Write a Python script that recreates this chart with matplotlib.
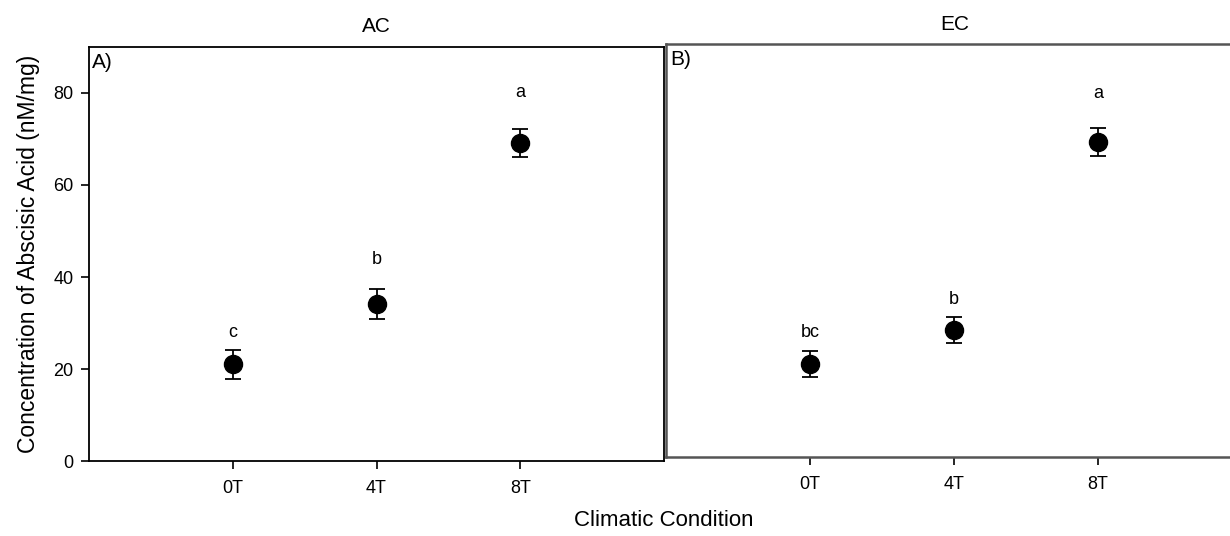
import matplotlib.pyplot as plt

plt.rcParams['font.family'] = ['Liberation Sans', 'DejaVu Sans']

conditions = ["0T", "4T", "8T"]

# AC panel
ac_mean = [21.0, 34.1, 69.1]
ac_err = [3.1, 3.2, 3.1]
ac_letters = ["c", "b", "a"]
ac_letter_y = [28.0, 43.9, 80.2]

# EC panel
ec_mean = [20.2, 27.7, 68.6]
ec_err = [2.8, 2.9, 3.0]
ec_letters = ["bc", "b", "a"]
ec_letter_y = [27.2, 34.4, 79.3]

W, H = 1230, 536
fig = plt.figure(figsize=(W / 100, H / 100), dpi=100)

ax_a = fig.add_axes([89 / W, (H - 461) / H, 575 / W, 414 / H])
ax_b = fig.add_axes([666 / W, (H - 457) / H, 720 / W, 413 / H])

x = list(range(len(conditions)))

for ax, mean, err, letters, ly, tag in [
    (ax_a, ac_mean, ac_err, ac_letters, ac_letter_y, "A)"),
    (ax_b, ec_mean, ec_err, ec_letters, ec_letter_y, "B)"),
]:
    ax.errorbar(x, mean, yerr=err, fmt="o", color="black", ms=13,
                capsize=5.5, elinewidth=1.3, capthick=1.3)
    for xi, lab, y in zip(x, letters, ly):
        ax.text(xi, y, lab, ha="center", va="center", fontsize=13)
    ax.set_ylim(0, 90)
    ax.set_xticks(x)
    ax.set_xticklabels(conditions, fontsize=13)
    ax.tick_params(direction="out", length=6, width=1.2, pad=8)
    ax.text(0.006, 0.985, tag, transform=ax.transAxes, ha="left", va="top",
            fontsize=15)
    for s in ax.spines.values():
        s.set_linewidth(1.3)

ax_a.set_xlim(-1, 3)
ax_b.set_xlim(-1, 4)

ax_a.set_yticks([0, 20, 40, 60, 80])
ax_a.tick_params(axis="y", labelsize=13, pad=5)
ax_a.set_ylabel("Concentration of Abscisic Acid (nM/mg)", fontsize=16.5,
                labelpad=10)
ax_b.set_yticks([])
for s in ["left", "top", "bottom"]:
    ax_b.spines[s].set_color("#555555")
    ax_b.spines[s].set_linewidth(1.8)

fig.text(376 / W, 1 - 27 / H, "AC", ha="center", va="center", fontsize=15)
fig.text(955 / W, 1 - 25 / H, "EC", ha="center", va="center", fontsize=15)
fig.text(664 / W, 1 - 520 / H, "Climatic Condition", ha="center",
         va="center", fontsize=16)

fig.savefig("out.png", dpi=100)
